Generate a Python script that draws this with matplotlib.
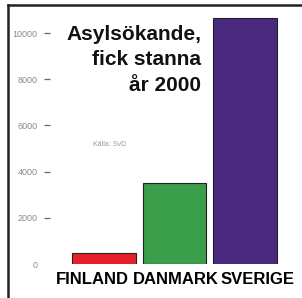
import matplotlib
matplotlib.use("Agg")
import matplotlib.pyplot as plt
from matplotlib.lines import Line2D
import matplotlib.transforms as mtransforms

countries = ["FINLAND", "DANMARK", "SVERIGE"]
values = [470, 3500, 10650]
colors = ["#e8202a", "#3a9e4a", "#4a2a7e"]
yticks = [0, 2000, 4000, 6000, 8000, 10000]
yticklabels = ["0", "2000", "4000", "6000", "8000", "10000"]
title = "Asylsökande,\nfick stanna\når 2000"
source = "Källa: SvD"

plt.rcParams['font.family'] = ['Liberation Sans', 'DejaVu Sans']

fig = plt.figure(figsize=(3.02, 2.98), dpi=100)
ax = fig.add_axes([50/302, 34/298, 240/302, 254/298])

x = list(range(len(countries)))
ax.bar(x, values, width=0.9, color=colors, edgecolor="#222222", linewidth=0.8)
ax.set_xlim(-0.766, 2.64)
ax.set_ylim(0, 11000)

for s in ax.spines.values():
    s.set_visible(False)

ax.set_yticks(yticks)
ax.set_yticklabels(yticklabels, fontsize=6.5, color="#8a8a8a")
ax.tick_params(axis='y', direction='out', length=4, width=0.9, color="#666666", pad=5)
ax.yaxis.get_major_ticks()[0].tick1line.set_visible(False)

ax.set_xticks(x)
ax.set_xticklabels(countries, fontsize=12, fontweight='bold', color="black")
ax.tick_params(axis='x', length=0, pad=6)
offsets = [-12, 1, 13]
for lbl, dx in zip(ax.get_xticklabels(), offsets):
    lbl.set_transform(lbl.get_transform() + mtransforms.ScaledTranslation(dx/100, 0, fig.dpi_scale_trans))

fig.text(201/302, 1 - 25/298, title, ha='right', va='top', multialignment='right',
         fontsize=15, fontweight='bold', color='#111111', linespacing=1.42)
fig.text(110/302, 1 - 145/298, source, ha='center', va='center', fontsize=5, color="#999999")

fig.add_artist(Line2D([8/302, 8/302], [0, 1 - 5/298], transform=fig.transFigure, color="#222222", linewidth=1.8))
fig.add_artist(Line2D([8/302, 1], [1 - 5/298, 1 - 5/298], transform=fig.transFigure, color="#222222", linewidth=1.8))

fig.savefig("out.png", dpi=100)
